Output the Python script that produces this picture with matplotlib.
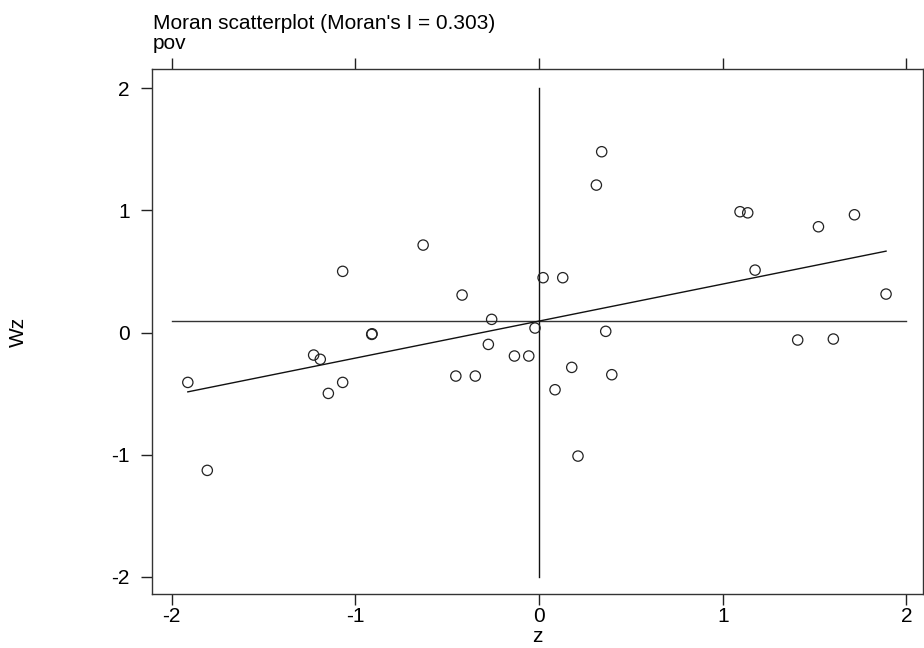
import matplotlib
matplotlib.use('Agg')
import matplotlib.pyplot as plt
import numpy as np

plt.rcParams['font.family'] = ['Liberation Sans', 'DejaVu Sans']

# standardized variable z and its spatial lag Wz
z = [-1.912, -1.806, -1.227, -1.191, -1.147, -1.069, -1.069, -0.911, -0.909,
     -0.631, -0.453, -0.347, -0.419, -0.258, -0.276, -0.134, -0.056, -0.022,
     0.022, 0.129, 0.312, 0.341, 0.363, 0.178, 0.396, 0.087, 0.212,
     1.094, 1.136, 1.521, 1.717, 1.176, 1.889, 1.408, 1.602]
wz = [-0.408, -1.128, -0.184, -0.219, -0.498, 0.501, -0.408, -0.015, -0.010,
      0.716, -0.356, -0.356, 0.307, 0.108, -0.097, -0.192, -0.192, 0.037,
      0.449, 0.449, 1.207, 1.480, 0.010, -0.285, -0.345, -0.468, -1.011,
      0.989, 0.980, 0.866, 0.964, 0.511, 0.315, -0.061, -0.053]

moran_i = 0.303
wz_mean = 0.094
ticks = [-2, -1, 0, 1, 2]

fig = plt.figure(figsize=(9.24, 6.48), dpi=100)
ax = fig.add_axes([0.1645, 0.0833, 0.8344, 0.810])

# reference lines at the means
ax.plot([-2, 2], [wz_mean, wz_mean], color='#333333', lw=1)
ax.plot([0, 0], [-2, 2], color='#111111', lw=1)

# fitted line over the data range
xs = np.array([min(z), max(z)])
ax.plot(xs, wz_mean + moran_i * xs, color='#111111', lw=1)

ax.scatter(z, wz, s=55, facecolors='none', edgecolors='#222222', linewidths=0.9, zorder=3)

ax.set_xlim(-2.107, 2.090)
ax.set_ylim(-2.14, 2.156)
ax.set_xticks(ticks)
ax.set_yticks(ticks)
ax.set_xticklabels(['-2', '-1', '0', '1', '2'])
ax.set_yticklabels(['-2', '-1', '0', '1', '2'])
ax.tick_params(axis='both', direction='out', length=8, width=1, labelsize=15, color='#222222')
ax.tick_params(axis='x', top=True, pad=1)
ax.tick_params(axis='y', pad=8)
for s in ax.spines.values():
    s.set_color('#333333')
    s.set_linewidth(1)

ax.set_xlabel('z', fontsize=15, labelpad=1)
ax.set_ylabel('Wz', fontsize=15, labelpad=60)

fig.text(0.1655, 0.956, "Moran scatterplot (Moran's I = %.3f)" % moran_i, fontsize=15, va='baseline')
fig.text(0.1655, 0.924, 'pov', fontsize=15, va='baseline')

plt.savefig('out.png', dpi=100)
plt.close()
